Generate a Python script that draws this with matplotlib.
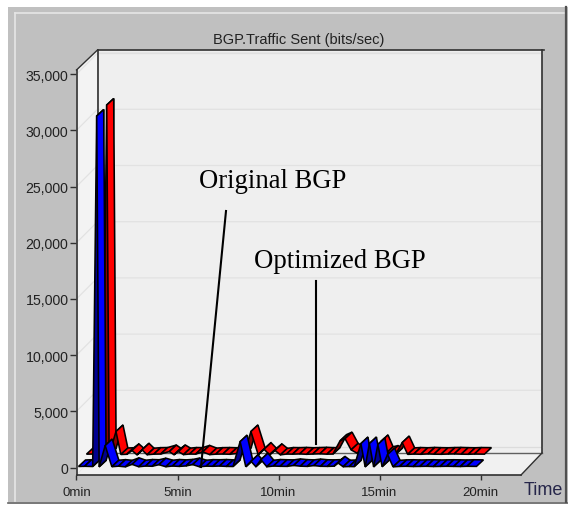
import matplotlib
matplotlib.use("Agg")
import matplotlib.pyplot as plt
from matplotlib.patches import Polygon
from matplotlib.lines import Line2D
from matplotlib.transforms import Affine2D, IdentityTransform

W, H = 568, 506
title = "BGP.Traffic Sent (bits/sec)"
x_ticks = [0, 5, 10, 15, 20]
x_labels = ["0min", "5min", "10min", "15min", "20min"]
y_ticks = [0, 5000, 10000, 15000, 20000, 25000, 30000, 35000]
y_labels = ["0", "5,000", "10,000", "15,000", "20,000", "25,000", "30,000", "35,000"]

blue_t = [0.1, 0.4, 0.8, 1.0, 1.12, 1.42, 1.75, 2.08, 2.42, 2.75, 3.08, 3.42, 3.75,
          4.08, 4.42, 4.75, 5.08, 5.42, 5.75, 6.08, 6.42, 6.75, 7.08, 7.42, 7.75,
          8.1, 8.38, 8.64, 8.88, 9.13, 9.42, 9.75, 10.08, 10.42, 10.75, 11.08, 11.42,
          11.75, 12.08, 12.42, 12.75, 12.95, 13.2, 13.5, 13.75,
          14.08, 14.29, 14.5, 14.71, 14.92, 15.13, 15.4, 15.67, 16.0, 16.33, 16.67, 17.0,
          17.33, 17.67, 18.0, 18.33, 18.67, 19.0, 19.33, 19.8]
blue_v = [90, 110, 90, 31270, 60, 1950, 70, 120, 60, 280, 70, 130, 110,
          250, 70, 130, 100, 140, 260, 70, 120, 110, 130, 100, 90,
          2300, 70, 550, 70, 700, 70, 130, 110, 100, 180, 120, 100,
          170, 110, 100, 120, 400, 70, 90, 80,
          2130, 60, 2130, 60, 2050, 70, 1150, 60, 100, 110, 90, 100,
          110, 90, 100, 110, 100, 90, 110, 100]

red_t = [0.0, 0.33, 0.8, 1.0, 1.12, 1.46, 1.7, 2.0, 2.25, 2.5, 2.75, 3.0, 3.33, 3.67,
         4.1, 4.33, 4.55, 4.8, 5.1, 5.4, 5.75, 6.1, 6.4, 6.75, 7.1, 7.45, 7.8,
         8.14, 8.5, 8.79, 9.06, 9.33, 9.6, 9.9, 10.2, 10.55, 10.9, 11.2, 11.55, 11.9,
         12.2, 12.55, 12.8, 13.1, 13.4, 13.75, 14.1, 14.3, 14.58, 14.83, 15.08, 15.3,
         15.63, 15.9, 16.2, 16.55, 16.9, 17.2, 17.55, 17.9, 18.2, 18.55, 18.9, 19.2, 19.7]
red_v = [120, 130, 100, 31180, 70, 2135, 90, 110, 450, 60, 500, 70, 120, 130,
         350, 70, 350, 80, 130, 120, 320, 80, 120, 130, 110, 180, 100,
         2135, 70, 560, 60, 450, 60, 130, 120, 140, 110, 130, 150, 120,
         130, 1300, 1500, 500, 200, 150, 250, 130, 1250, 200, 300, 100,
         1150, 100, 130, 110, 140, 120, 110, 130, 140, 120, 110, 130, 120]

# pixel geometry of the 3D box (image coords, y down)
L, R, BOT, TOP = 76.5, 521, 476, 71
DX, DY = 21, 22
PX_PER_MIN = 20.2
PX_PER_UNIT = 56.2 / 5000
ZERO_Y = 468.5

fig = plt.figure(figsize=(W / 100, H / 100), dpi=100, facecolor="white")
ax = fig.add_axes([L / W, (H - BOT) / H, (R - L) / W, (BOT - TOP) / H])
ax.patch.set_visible(False)
ax.set_xlim(0, (R - L) / PX_PER_MIN)
ax.set_ylim(-(BOT - ZERO_Y) / PX_PER_UNIT, (ZERO_Y - TOP) / PX_PER_UNIT)
px = Affine2D().scale(1, -1).translate(0, H)


def poly(pts, fc, z, ec="none", lw=0):
    ax.add_patch(Polygon(pts, closed=True, fc=fc, ec=ec, lw=lw, transform=px, clip_on=False, zorder=z))


def seg(xs, ys, c, lw, z):
    ax.add_line(Line2D(xs, ys, color=c, lw=lw, transform=px, clip_on=False, zorder=z))


# panel
poly([(8, 8), (W, 8), (W, 503), (8, 503)], "#C0C0C0", 0.1)
seg([15, 15], [502, 14], "#E6E6E6", 1.2, 0.2)
seg([15, 564], [14, 14], "#E6E6E6", 1.2, 0.2)
seg([8, W], [503.5, 503.5], "#606060", 1.2, 0.2)
seg([565.5, 565.5], [8, 503], "#505050", 1.6, 0.2)

# walls and floor
BX, BB, BT = L + DX, BOT - DY, TOP - 20
poly([(BX, BT), (R + DX, BT), (R + DX, BB), (BX, BB)], "#EFEFEF", 0.3)
poly([(L, TOP), (BX, BT), (BX, BB), (L, BOT)], "#F3F3F3", 0.3)
poly([(L, BOT), (BX, BB), (R + DX, BB), (R, BOT)], "#F1F1F1", 0.3)
for tick in y_ticks[1:]:
    yy = ZERO_Y - tick * PX_PER_UNIT
    seg([L, BX, R + DX], [yy, yy - DX, yy - DX], "#E2E2E2", 0.9, 0.4)
seg([BX, R + DX], [ZERO_Y - DX, ZERO_Y - DX], "#DCDCDC", 0.9, 0.4)
seg([BX, R + DX], [BT + 3, BT + 3], "#E0E0E0", 1.0, 0.4)
edge = "#303030"
seg([BX, BX], [BT, BB], edge, 1.2, 0.5)
seg([BX, R + DX + 2], [BT, BT], edge, 1.2, 0.5)
seg([R + DX, R + DX], [BT, BB], edge, 1.2, 0.5)
seg([BX, R + DX], [BB, BB], "#606060", 1.0, 0.5)
seg([L, BX], [TOP, BT], edge, 1.0, 0.5)
seg([R, R + DX], [BOT, BB], edge, 1.0, 0.5)
seg([L, L], [TOP, BOT], edge, 1.2, 0.5)
seg([L, R], [BOT, BOT], edge, 1.2, 0.5)

# ribbons
DEPTH_X, DEPTH_Y = 7, 6.5


def ribbon(ts, vs, off_x, off_y, bright, dark, z):
    disp = ax.transData.transform(list(zip(ts, vs)))
    for i in range(len(ts) - 1):
        x0, y0 = disp[i]
        x1, y1 = disp[i + 1]
        x0, x1 = x0 + off_x, x1 + off_x
        y0, y1 = y0 + off_y, y1 + off_y
        col = dark if y1 - y0 > 6 else bright
        ax.add_patch(Polygon([(x0, y0), (x1, y1), (x1 + DEPTH_X, y1 + DEPTH_Y), (x0 + DEPTH_X, y0 + DEPTH_Y)],
                             closed=True, fc=col, ec="black", lw=1.15,
                             transform=IdentityTransform(), clip_on=False, zorder=z + i * 0.001))


ribbon(red_t, red_v, 10, 12, "#FF0000", "#8A0000", 2)
ribbon(blue_t, blue_v, 0, 0, "#0000FF", "#000090", 3)

# axis ticks and labels
for s in ax.spines.values():
    s.set_visible(False)
tick_font = "Liberation Sans"
ax.set_xticks(x_ticks, x_labels, fontsize=9.5, fontfamily=tick_font, color="#222222")
ax.set_yticks(y_ticks, y_labels, fontsize=10.2, fontfamily=tick_font, color="#222222")
ax.tick_params(axis="x", length=3.6, width=1.0, color=edge, pad=4.5)
ax.tick_params(axis="y", length=4.3, width=1.0, color=edge, pad=1.5)

ax.text(298.5, 40, title, transform=px, ha="center", va="center", fontsize=10.5, family=tick_font, color="#222222")
ax.text(524, 491, "Time", transform=px, ha="left", va="center", fontsize=13, family=tick_font, color="#26264A")

# annotations
ax.text(199, 182, "Original BGP", transform=px, ha="left", va="center", fontsize=19.2, family="Liberation Serif", color="black", zorder=6)
ax.text(254, 262, "Optimized BGP", transform=px, ha="left", va="center", fontsize=19.3, family="Liberation Serif", color="black", zorder=6)
seg([226, 201], [212, 468], "black", 1.5, 5)
seg([316, 316], [282, 445], "black", 1.5, 5)

fig.savefig("out.png", dpi=100)
